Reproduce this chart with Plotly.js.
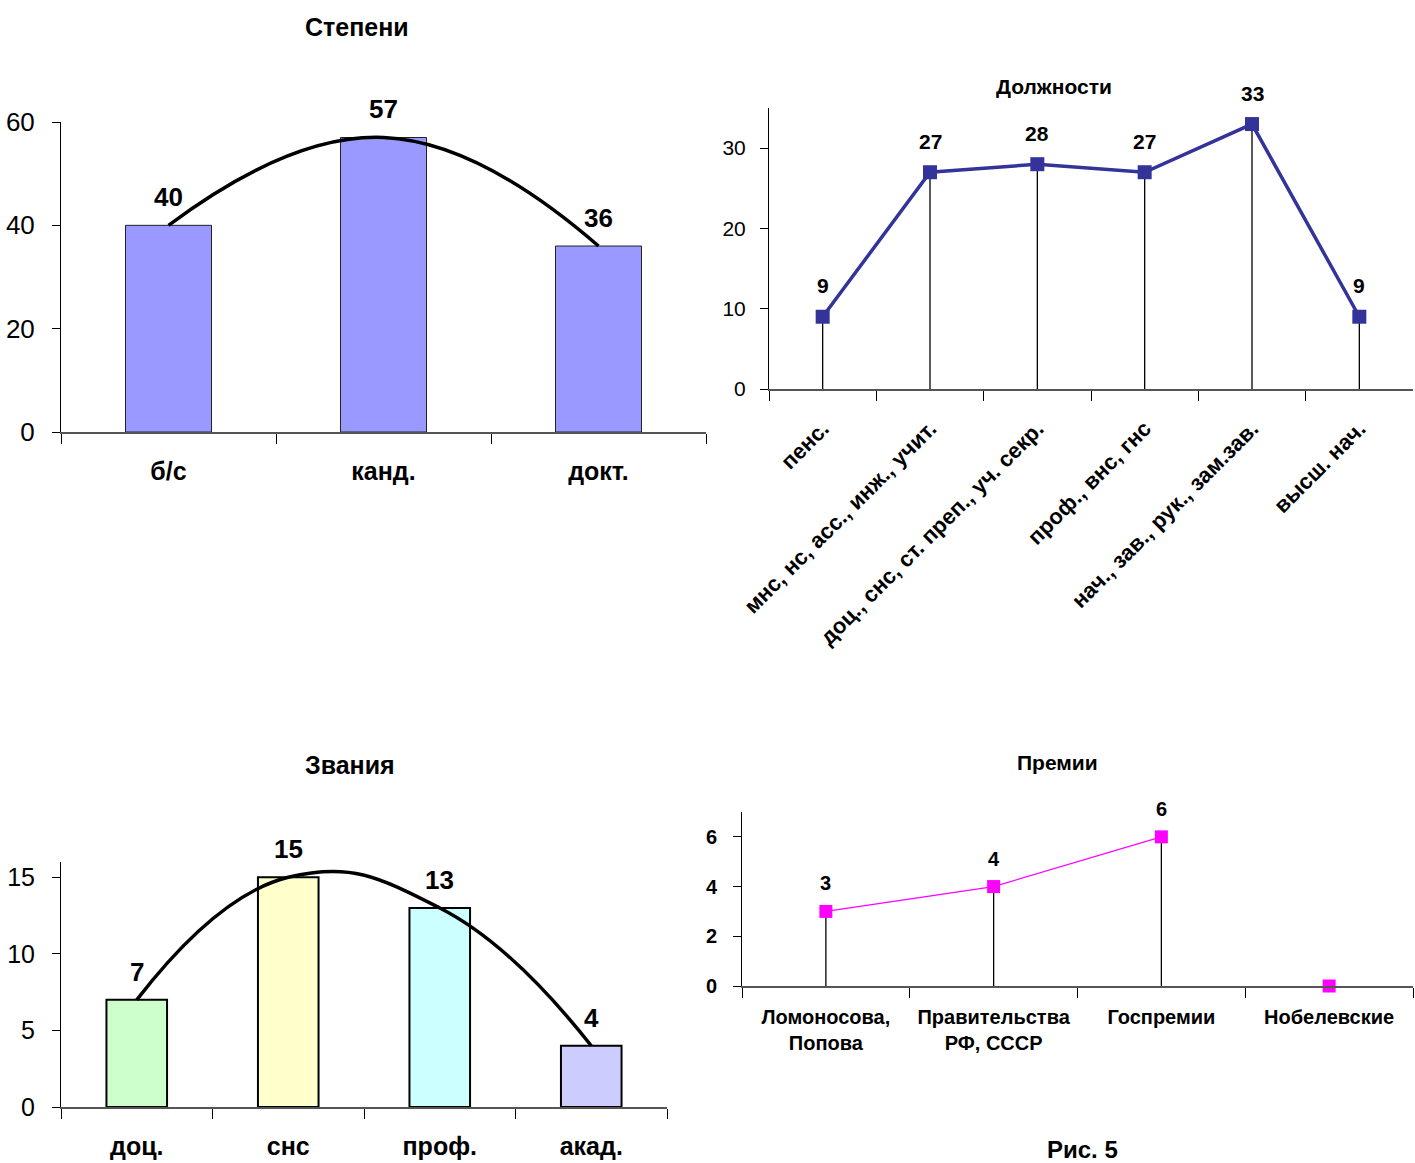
<!DOCTYPE html>
<html>
<head>
<meta charset="utf-8">
<script src="https://cdn.plot.ly/plotly-3.0.1.min.js"></script>
<style>html,body{margin:0;padding:0;background:#fff;}#chart{width:1415px;height:1163px;}</style>
</head>
<body>
<div id="chart"></div>
<script>
// ---- Data ----
const degreeCats = ['б/с', 'канд.', 'докт.'];
const degreeVals = [40, 57, 36];

const positionCats = ['пенс.', 'мнс, нс, асс., инж., учит.', 'доц., снс, ст. преп., уч. секр.', 'проф., внс, гнс', 'нач., зав., рук., зам.зав.', 'высш. нач.'];
const positionVals = [9, 27, 28, 27, 33, 9];

const rankCats = ['доц.', 'снс', 'проф.', 'акад.'];
const rankVals = [7, 15, 13, 4];

const prizeCats = ['Ломоносова,<br>Попова', 'Правительства<br>РФ, СССР', 'Госпремии', 'Нобелевские'];
const prizeVals = [3, 4, 6, 0];

const titles = ['Степени', 'Должности', 'Звания', 'Премии'];
const figCaption = 'Рис. 5';

// ---- Styles ----
const FONT = 'Liberation Sans, Arial, sans-serif';
const rankColors = ['#CCFFCC', '#FFFFCC', '#CCFFFF', '#CCCCFF'];
const W = 1415, H = 1163;
const px = v => v / W;
const py = v => 1 - v / H;

const traces = [
  // Степени
  {type: 'bar', x: degreeCats, y: degreeVals, xaxis: 'x', yaxis: 'y', width: 0.4,
   marker: {color: '#9999FF', line: {color: '#222', width: 1}}, hoverinfo: 'skip'},
  {type: 'scatter', mode: 'lines', x: degreeCats, y: degreeVals, xaxis: 'x', yaxis: 'y',
   line: {color: '#000', width: 3.5, shape: 'spline', smoothing: 1.3}, hoverinfo: 'skip'},
  // Должности: drop lines
  {type: 'scatter', mode: 'markers', x: positionCats, y: positionVals, xaxis: 'x2', yaxis: 'y2',
   marker: {color: 'rgba(0,0,0,0)', size: 1},
   error_y: {type: 'data', symmetric: false, array: positionVals.map(() => 0), arrayminus: positionVals, width: 0, color: '#000', thickness: 1.3},
   hoverinfo: 'skip'},
  {type: 'scatter', mode: 'lines+markers', x: positionCats, y: positionVals, xaxis: 'x2', yaxis: 'y2',
   line: {color: '#333399', width: 3.5}, marker: {symbol: 'square', size: 14, color: '#333399'}, hoverinfo: 'skip'},
  // Звания
  {type: 'bar', x: rankCats, y: rankVals, xaxis: 'x3', yaxis: 'y3', width: 0.4,
   marker: {color: rankColors, line: {color: '#000', width: 2}}, hoverinfo: 'skip'},
  {type: 'scatter', mode: 'lines', x: rankCats, y: rankVals, xaxis: 'x3', yaxis: 'y3',
   line: {color: '#000', width: 3.5, shape: 'spline', smoothing: 1.3}, hoverinfo: 'skip'},
  // Премии: drop lines
  {type: 'scatter', mode: 'markers', x: prizeCats, y: prizeVals, xaxis: 'x4', yaxis: 'y4',
   marker: {color: 'rgba(0,0,0,0)', size: 1},
   error_y: {type: 'data', symmetric: false, array: prizeVals.map(() => 0), arrayminus: prizeVals, width: 0, color: '#000', thickness: 1.3},
   hoverinfo: 'skip'},
  {type: 'scatter', mode: 'lines', x: prizeCats.slice(0, 3), y: prizeVals.slice(0, 3), xaxis: 'x4', yaxis: 'y4',
   line: {color: '#FF00FF', width: 1.2}, hoverinfo: 'skip'},
  {type: 'scatter', mode: 'markers', x: prizeCats, y: prizeVals, xaxis: 'x4', yaxis: 'y4',
   marker: {symbol: 'square', size: 13, color: '#FF00FF'}, cliponaxis: false, hoverinfo: 'skip'}
];

function xAxis(domain, anchor, n, fontSize, standoff, extra) {
  return Object.assign({
    domain: domain, anchor: anchor, type: 'category', range: [-0.5, n - 0.5],
    tickson: 'boundaries', ticks: 'outside', ticklen: 10, tickcolor: '#000', tickwidth: 1,
    showline: true, linecolor: '#555', linewidth: 2, showgrid: false, zeroline: false,
    tickfont: {family: FONT, size: fontSize, color: '#000', weight: 'bold'},
    ticklabelstandoff: standoff, tickangle: 0, fixedrange: true
  }, extra || {});
}
function yAxis(domain, anchor, range, dtick, fontSize, bold, standoff) {
  return {
    domain: domain, anchor: anchor, range: range, dtick: dtick,
    ticks: 'outside', ticklen: 8, tickcolor: '#000', tickwidth: 1,
    showline: true, linecolor: '#000', linewidth: 1, showgrid: false, zeroline: false,
    tickfont: {family: FONT, size: fontSize, color: '#000', weight: bold ? 'bold' : 'normal'},
    ticklabelstandoff: standoff, fixedrange: true
  };
}

const annotations = [];
function addLabels(xref, yref, cats, vals, size, yshift) {
  cats.forEach((c, i) => {
    if (vals[i] > 0) {
      annotations.push({xref: xref, yref: yref, x: c, y: vals[i], text: '<b>' + vals[i] + '</b>',
        showarrow: false, yshift: yshift, yanchor: 'middle',
        font: {family: FONT, size: size, color: '#000'}});
    }
  });
}
addLabels('x', 'y', degreeCats, degreeVals, 26, 28);
addLabels('x2', 'y2', positionCats, positionVals, 21, 31);
addLabels('x3', 'y3', rankCats, rankVals, 26, 28);
addLabels('x4', 'y4', prizeCats, prizeVals, 20, 28);

const titlePos = [[357, 27, 25], [1054, 87, 21], [350, 765, 25], [1057, 762, 21]];
titles.forEach((t, i) => {
  annotations.push({xref: 'paper', yref: 'paper', x: px(titlePos[i][0]), y: py(titlePos[i][1]),
    text: '<b>' + t + '</b>', showarrow: false, xanchor: 'center', yanchor: 'middle',
    font: {family: FONT, size: titlePos[i][2], color: '#000'}});
});
annotations.push({xref: 'paper', yref: 'paper', x: px(1082), y: py(1149), text: '<b>' + figCaption + '</b>',
  showarrow: false, xanchor: 'center', yanchor: 'middle', font: {family: FONT, size: 24, color: '#000'}});

const layout = {
  width: W, height: H, margin: {l: 0, r: 0, t: 0, b: 0},
  paper_bgcolor: '#fff', plot_bgcolor: '#fff', showlegend: false,
  font: {family: FONT, color: '#000'},
  xaxis: xAxis([px(61), px(706)], 'y', degreeCats.length, 25, 16),
  yaxis: yAxis([py(432), py(122)], 'x', [0, 60], 20, 26, false, 12),
  xaxis2: xAxis([px(769), px(1413)], 'y2', positionCats.length, 22, 16, {tickangle: -45}),
  yaxis2: yAxis([py(389), py(108)], 'x2', [0, 35], 10, 21, false, 10),
  xaxis3: xAxis([px(61), px(667)], 'y3', rankCats.length, 25, 16),
  yaxis3: yAxis([py(1107), py(862)], 'x3', [0, 16], 5, 25, false, 12),
  xaxis4: xAxis([px(742), px(1413)], 'y4', prizeCats.length, 20, 12),
  yaxis4: yAxis([py(986), py(812)], 'x4', [0, 7], 2, 20, true, 12),
  annotations: annotations
};

Plotly.newPlot('chart', traces, layout, {displayModeBar: false, staticPlot: true});
</script>
</body>
</html>
